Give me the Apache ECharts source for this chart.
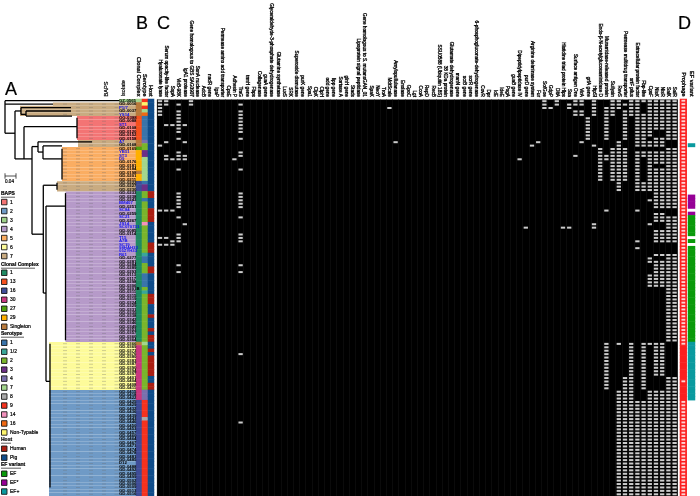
<!DOCTYPE html>
<html>
<head>
<meta charset="utf-8" />
<title>Phylogeny and virulence gene matrix</title>
<style>
  html, body { margin: 0; padding: 0; background: #fff; }
  #main { width: 700px; height: 496px; }
</style>
<script src="https://cdn.jsdelivr.net/npm/echarts@6/dist/echarts.min.js"></script>
</head>
<body>
<div id="main"></div>
<script>
// isolate per row, top to bottom. most of these are too small to read, so they are estimates
const isolates = [
  "GZ-0565","GD-0016","P1/7","GD-0037","YS14","OG-0388","GD-0088","ST1","GD-0108","GD-0120",
  "GD-0152","GD-0158","A7","GD-0168","GD-0169","YB51","ST3","D9","GD-0176","GD-0181",
  "GD-0184","GD-0198","GD-0201","GD-0211","GD-0222","GD-0227","GD-0230","GD-0233","GD-0238","GD-0243",
  "BM407","GD-0251","SC84","GD-0259","SC21","GD-0267","JS14","SC070731","GD-0085","GD-0114",
  "T15","A7B","SC19","98HAH33","05ZYH33","R61","GD-0277","GD-0281","GD-0284","GD-0289",
  "GD-0293","GD-0113","GD-0117","GD-0298","GD-0306","GD-0201B","GD-0311","GD-0315","GD-0319","GD-0324",
  "GD-0329","GD-0331","GD-0335","GD-0338","GD-0342","GD-0346","GD-0349","GD-0353","GD-0357","GD-0360",
  "GD-0364","GD-0366","GD-0369","GD-0373","GD-0376","GD-0380","GD-0383","GD-0387","GD-0390","GD-0394",
  "GD-0397","GD-0401","GD-0404","GD-0408","GD-0411","GD-0415","GD-0418","GD-0422","GD-0425","GD-0429",
  "GD-0432","GD-0436","GD-0439","GD-0443","GD-0446","GD-0450","GD-0453","GD-0457","GD-0460","GD-0464",
  "GD-0467","GD-0471","GD-0474","GD-0478","GD-0481","GD-0485","D12","GD-0488","GD-0492","GD-0495",
  "GD-0499","GD-0502","GD-0506","GD-0509","GD-0513","GD-0516"
];
const refIsolates = ["P1/7","YS14","ST1","A7","YB51","ST3","D9","BM407","SC84","SC21","JS14","SC070731",
  "T15","A7B","SC19","98HAH33","05ZYH33","R61"];

const genes = [
  "Hyaluronate lyase","Serum opacity-like factor","SspA","VirB-98K","IgA1 protease",
  "Gene homologous to GBS SAG0907","SsnA nuclease","AdcB","nadR gene","IgaP",
  "Permease amino acid transporter","CpsE","Adhesin P","TraG","trmH gene","Fbps","Collagenase",
  "guaA gene","Glyceraldehyde-3-phosphate dehydrogenase","Glutamine synthetase","LuxS","SRK",
  "Superoxide dismutase","purK gene","Spa1","ClpK","ClpH","odd gene","lipp gene","Sortase A","glnH gene",
  "Stads","Lipoprotein signal peptidase","Gene homologous to S. mutansGAN_01","SpaK","NeoY","TroA",
  "MdtScale","Amylopullulanase","Enolase","GpoC","Lgt","CcoA","RepD","RecB",
  "SSU0588 (Ubiquitin 18S)","38 KDa protein","Glutamate dehydrogenase","manN gene","scrB gene","scrR gene",
  "6-phosphogluconate-dehydrogenase","CovR","Dpr","IdE","IdeE","PsgA","guaB gene",
  "Dipeptidylpeptidase IV","purD gene","Arginine deiminase system","Fur","SofGoe","GdpP","DltA",
  "Histidine triad protein Hlps","Ssa","Surface antigen One","VirA","grfA gene","HtpSl",
  "Endo-β-N-acetylglucosaminidase D","Muramidase-released protein","Suilysin","RevS",
  "Permease multidrug transporter","srtF pilus","Extracellular protein factor","Fbp-like","CpsF",
  "NisK","NisR","SalK","SalR"
];

// rows where each gene is present (gene index -> rows), [a, b] means a to b
const presence = {
  0: [[0, 4], 13, 32, 40, 42],
  1: [0, 1, 7, 12, 16, 17, 32, 40, 42],
  2: [7, 17, 32, 41, 42],
  3: [1, [3, 9], 11, [15, 17], 20, [27, 31], 34, [39, 41], 48, 50],
  4: [7, 12, 16, 17, 36],
  5: [0, 1],
  12: [17],
  13: [1, [3, 9], 11, 15, 16, 20, [27, 31], 34, [39, 41], 48, 50, 74, 94],
  37: [2],
  38: [12],
  58: [17],
  59: [37],
  60: [13],
  61: [12],
  62: [0, 1, 2],
  63: [2],
  64: [0, 1],
  65: [37],
  66: [1, 2, 37],
  67: [0, 1, 3, 4, 16],
  68: [0, 1, 3, 4, 12],
  69: [[5, 11]],
  70: [[0, 4], 13, 36, 37],
  71: [[14, 23]],
  72: [[2, 11], 16, 17, 32, [71, 84]],
  73: [[0, 4], [14, 23]],
  74: [0, 1, 2, [12, 26], 71, [85, 115]],
  75: [1, [3, 11], [14, 23], [81, 115]],
  76: [[0, 4], [71, 115]],
  77: [[0, 13], [15, 26], 32, 41, 43, [88, 115]],
  78: [0, [4, 13], 15, 16, [24, 26], [71, 84], [88, 115]],
  79: [[0, 10], 12, 13, [15, 26], 29, 36, 46, 47, [51, 54], 71, [85, 115]],
  80: [[0, 8], [11, 13], [15, 18], [20, 31], [33, 35], [38, 41], 45, [47, 54], [71, 80], [85, 115]],
  81: [[0, 8], [11, 13], [15, 18], [20, 31], [33, 35], [38, 41], 45, [47, 54], [71, 80], [85, 115]],
  82: [[0, 11], [14, 31], [34, 41], [45, 70], [81, 115]],
  83: [[0, 11], [14, 31], [34, 41], [45, 70], [81, 115]]
};
const prophageRows = [[0, 71], 82, [88, 115]];

// strips as [key, last row of the run]
const bapsRuns = [["3", 0, 119], ["7", 1, 53], ["7", 4, 20], ["1", 11, 77], ["7", 13, 78], ["5", 23, 62],
  ["7", 26, 57], ["4", 70, 65.5], ["6", 84, 49], ["2", 115, 49]];
const complexRuns = [["none", 0], ["Singleton", 4], ["13", 11], ["Singleton", 13], ["27", 14], ["29", 20],
  ["Singleton", 21], ["29", 23], ["16", 26], ["1", 70], ["Singleton", 71], ["30", 87], ["16", 115]];
const serotypeRuns = [["9", 0], ["Non-Typable", 1], ["9", 2], ["7", 3], ["16", 4], ["1", 11], ["4", 12], ["2", 14],
  ["3", 16], ["7", 23], ["1", 24], ["3", 26], ["2", 28], ["1", 29], ["2", 35], ["14", 36], ["2", 44], ["1/2", 45],
  ["1", 47], ["2", 50], ["1", 54], ["2", 55], ["1/2", 56], ["2", 70], ["7", 71], ["2", 84], ["4", 87], ["9", 92],
  ["8", 93], ["9", 115]];
const hostRuns = [["Pig", 26], ["Human", 28], ["Pig", 31], ["Human", 35], ["Pig", 41], ["Human", 44], ["Pig", 48],
  ["Human", 50], ["Pig", 56], ["Human", 59], ["Pig", 62], ["Human", 63], ["Pig", 66], ["Human", 67], ["Pig", 68],
  ["Human", 70], ["Pig", 72], ["Human", 73], ["Pig", 74], ["Human", 80], ["Pig", 82], ["Human", 84], ["Pig", 115]];
const efRuns = [["none", 12], ["EF+", 13], ["none", 27], ["EF*", 31], ["none", 32], ["EF*", 33], ["EF", 39],
  ["none", 40], ["EF", 41], ["none", 42], ["EF", 70], ["EF+", 87], ["none", 115]];

// tree branches: depth, row, depth, row
const treeBranches = [
  [5, 0, 5, 9.5], [5, 0, 119, 0], [5, 1, 53, 1], [5, 9.5, 15, 9.5], [15, 3, 15, 17],
  [15, 3, 21, 3], [21, 2, 21, 4], [21, 2, 71, 2], [21, 4, 26, 4], [26, 3, 26, 4.5], [26, 3, 71, 3], [26, 4.5, 72, 4.5],
  [15, 17, 24, 17], [24, 7.6, 24, 17], [24, 7.6, 77, 7.6], [77, 5, 77, 11],
  [24, 17, 32, 17], [32, 13.4, 32, 39], [32, 13.4, 38, 13.4], [38, 12, 38, 15], [38, 12, 92, 12], [38, 15, 43, 15],
  [43, 13.2, 43, 17], [43, 13.2, 62, 13.2], [43, 17, 62, 17], [62, 14, 62, 23],
  [32, 39, 43.3, 39], [43.3, 24.7, 43.3, 56.2], [43.3, 24.7, 57, 24.7], [57, 24, 57, 26],
  [43.3, 56.2, 46, 56.2], [46, 30.8, 46, 82], [46, 30.8, 65.5, 30.8], [65.5, 27, 65.5, 70],
  [46, 82, 50, 82], [50, 71, 50, 113]
];
const scaleBar = [[5, 22, 16, 22], [5, 21.2, 5, 22.8], [16, 21.2, 16, 22.8]];
const rowDashDepths = [65, 78, 91, 104, 116.5];

const bapsLegend = ["1", "2", "3", "4", "5", "6", "7"];
const bapsColors = ["#f37474", "#6f9ac6", "#9ed08a", "#b69ac9", "#faad62", "#fdfb9a", "#c9ab81"];
const complexLegend = ["1", "13", "16", "30", "27", "29", "Singleton"];
const complexColors = ["#1f8a63", "#f4511e", "#3f4d97", "#c9387f", "#4fa00f", "#ffb000", "#b87a3c"];
const serotypeLegend = ["1", "1/2", "2", "3", "4", "7", "8", "9", "14", "16", "Non-Typable"];
const serotypeColors = ["#3a74aa", "#3aa698", "#7ab52c", "#6d2f87", "#7a70ad", "#a3d68d", "#a9a9a9", "#f5321e", "#f391bd", "#f16913", "#fdf56c"];
const hostLegend = ["Human", "Pig"];
const hostColors = ["#ab1f13", "#0f4c8a"];
const efLegend = ["EF", "EF*", "EF+"];
const efColors = ["#099a0a", "#960096", "#0a9a9f"];

const FONT = '"Liberation Sans", Arial, sans-serif';
const ROW_COUNT = isolates.length;
const GRID_TOP = 99;
const GRID_HEIGHT = 397;

function colorMap(keys, colors) {
  const map = { none: null };
  keys.forEach((k, i) => { map[k] = colors[i]; });
  return map;
}

function expandRows(list) {
  const out = [];
  list.forEach((item) => {
    if (Array.isArray(item)) {
      for (let r = item[0]; r <= item[1]; r++) out.push(r);
    } else {
      out.push(item);
    }
  });
  return out;
}

// turns runs into heatmap cells for one strip column
function stripCells(runs, col, map) {
  const cells = [];
  let first = 0;
  runs.forEach((run) => {
    for (let r = first; r <= run[1]; r++) {
      if (map[run[0]]) cells.push({ value: [col, r, 1], itemStyle: { color: map[run[0]] } });
    }
    first = run[1] + 1;
  });
  return cells;
}

const complexMap = colorMap(complexLegend, complexColors);
complexMap.none = "#a5d28c";
const serotypeMap = colorMap(serotypeLegend, serotypeColors);
const hostMap = colorMap(hostLegend, hostColors);
const efMap = colorMap(efLegend, efColors);

// coloured clade bands behind the tree
const bandData = [];
const dashData = [];
let bandFirst = 0;
bapsRuns.forEach((run) => {
  for (let r = bandFirst; r <= run[1]; r++) {
    bandData.push([run[2], r, 136, bapsLegend.indexOf(run[0])]);
    rowDashDepths.forEach((d) => {
      if (d > run[2] + 2) dashData.push([d, r]);
    });
  }
  bandFirst = run[1] + 1;
});

const geneMarks = [];
Object.keys(presence).forEach((g) => {
  expandRows(presence[g]).forEach((r) => geneMarks.push([Number(g), r]));
});

const stripCellsAll = [].concat(
  stripCells(complexRuns, 0, complexMap),
  stripCells(serotypeRuns, 1, serotypeMap),
  stripCells(hostRuns, 2, hostMap)
);

const prophageCells = [];
for (let r = 0; r < ROW_COUNT; r++) prophageCells.push({ value: [0, r, 1], itemStyle: { color: "#fb1f1f" } });
const prophageMarks = expandRows(prophageRows).map((r) => [0, r]);

// legend and panel letters
const graphics = [];
function addText(text, x, y, opts) {
  graphics.push(Object.assign({
    type: "text", x: x, y: y, silent: true,
    style: Object.assign({ text: text, fill: "#000", stroke: "#000", lineWidth: 0.2, font: "4.8px " + FONT, textVerticalAlign: "middle" }, opts && opts.style)
  }, opts && opts.el));
}
function addSection(title, underline, titleY, firstY, step, keys, colors) {
  addText(title, 1, titleY, { style: { font: "bold 5px " + FONT } });
  graphics.push({ type: "line", silent: true, shape: { x1: 1, y1: titleY + 3.2, x2: underline, y2: titleY + 3.2 }, style: { stroke: "#333", lineWidth: 0.8 } });
  keys.forEach((k, i) => {
    const y = firstY + i * step;
    graphics.push({ type: "rect", silent: true, shape: { x: 1.5, y: y - 3, width: 5.5, height: 5.5 }, style: { fill: colors[i], stroke: "#1a1a1a", lineWidth: 0.9 } });
    addText(k, 10, y, { style: { font: "5px " + FONT } });
  });
}
addSection("BAPS", 15, 194, 202.3, 9, bapsLegend, bapsColors);
addSection("Clonal Complex", 35, 265, 273, 9, complexLegend, complexColors);
addSection("Serotype", 24, 334, 343, 8.97, serotypeLegend, serotypeColors);
addSection("Host", 11, 440, 449, 8.9, hostLegend, hostColors);
addSection("EF variant", 21, 465, 474, 8.9, efLegend, efColors);
addText("0.04", 5, 182, { style: { font: "4.6px " + FONT } });
[["A", 5, 90.5], ["B", 136, 24.5], ["C", 157, 24.5], ["D", 678, 24.5]].forEach((p) => {
  addText(p[0], p[1], p[2], { style: { font: "18px " + FONT } });
});
[["BAPS", 106.5], ["Isolate", 123.5]].forEach((p) => {
  addText(p[0], p[1], 96.5, { el: { rotation: Math.PI / 2 }, style: { font: "5.6px " + FONT } });
});

function hiddenAxis(extra) {
  return Object.assign({ show: false }, extra);
}
const rowAxis = (gridIndex, extra) => Object.assign({
  type: "category", gridIndex: gridIndex, data: isolates, inverse: true,
  axisLine: { show: false }, axisTick: { show: false }, axisLabel: { show: false }, splitLine: { show: false }
}, extra);
const topAxis = (gridIndex, data, fontSize, extra) => Object.assign({
  type: "category", gridIndex: gridIndex, data: data, position: "top",
  axisLine: { show: false }, axisTick: { show: false }, splitLine: { show: false },
  axisLabel: {
    show: true, interval: 0, rotate: 90, fontSize: fontSize, fontFamily: FONT, color: "#000", margin: 2.5,
    hideOverlap: false, align: "right", verticalAlign: "middle",
    textBorderColor: "#000", textBorderWidth: 0.3
  }
}, extra);
const gridBox = (left, width, extra) => Object.assign({ left: left, width: width, top: GRID_TOP, height: GRID_HEIGHT }, extra);

const option = {
  animation: false,
  backgroundColor: "#fff",
  graphic: graphics,
  grid: [
    gridBox(0, 136),
    gridBox(119, 17),
    gridBox(136, 18),
    gridBox(156.9, 520.8, { show: true, backgroundColor: "#000", borderWidth: 0 }),
    gridBox(680, 6.7),
    gridBox(688, 7)
  ],
  xAxis: [
    hiddenAxis({ type: "value", gridIndex: 0, min: 0, max: 136 }),
    hiddenAxis({ type: "category", gridIndex: 1, data: ["Isolate"] }),
    topAxis(2, ["Clonal Complex", "Serotype", "Host"], 5.6),
    topAxis(3, genes, 4.7, { splitLine: { show: true, lineStyle: { color: "#131313", width: 0.6 } } }),
    topAxis(4, ["Prophage"], 5.6),
    topAxis(5, ["EF variant"], 5.6)
  ],
  yAxis: [
    hiddenAxis({ type: "value", gridIndex: 0, inverse: true, min: -0.5, max: ROW_COUNT - 0.5 }),
    rowAxis(1, {
      z: 20,
      axisLabel: {
        show: true, inside: true, interval: 0, fontSize: 4.3, fontFamily: FONT, fontWeight: "bold", margin: 0,
        hideOverlap: false, align: "left",
        color: (value) => (refIsolates.indexOf(value) >= 0 ? "#1010f0" : "#000")
      }
    }),
    rowAxis(2),
    rowAxis(3),
    rowAxis(4),
    rowAxis(5)
  ],
  series: [
    {
      type: "custom", xAxisIndex: 0, yAxisIndex: 0, data: bandData, silent: true, z: 1,
      encode: { x: [0, 2], y: 1 },
      renderItem: (params, api) => {
        const a = api.coord([api.value(0), api.value(1) - 0.5]);
        const b = api.coord([api.value(2), api.value(1) + 0.5]);
        return { type: "rect", shape: { x: a[0], y: a[1], width: b[0] - a[0], height: b[1] - a[1] }, style: { fill: bapsColors[api.value(3)] } };
      }
    },
    {
      type: "scatter", xAxisIndex: 0, yAxisIndex: 0, data: dashData, silent: true, z: 2,
      symbol: "rect", symbolSize: [4, 1], itemStyle: { color: "rgba(110,110,110,0.4)" }
    },
    {
      type: "custom", xAxisIndex: 0, yAxisIndex: 0, data: treeBranches, silent: true, z: 3,
      encode: { x: [0, 2], y: [1, 3] },
      renderItem: (params, api) => {
        const a = api.coord([api.value(0), api.value(1)]);
        const b = api.coord([api.value(2), api.value(3)]);
        return { type: "line", shape: { x1: a[0], y1: a[1], x2: b[0], y2: b[1] }, style: { stroke: "#000", lineWidth: 1.3 } };
      }
    },
    {
      type: "custom", xAxisIndex: 0, yAxisIndex: 0, data: scaleBar, silent: true, z: 3,
      encode: { x: [0, 2], y: [1, 3] },
      renderItem: (params, api) => {
        const a = api.coord([api.value(0), api.value(1)]);
        const b = api.coord([api.value(2), api.value(3)]);
        return { type: "line", shape: { x1: a[0], y1: a[1], x2: b[0], y2: b[1] }, style: { stroke: "#222", lineWidth: 0.8 } };
      }
    },
    { type: "heatmap", xAxisIndex: 2, yAxisIndex: 2, data: stripCellsAll, silent: true },
    {
      type: "scatter", xAxisIndex: 3, yAxisIndex: 3, data: geneMarks, silent: true,
      symbol: "rect", symbolSize: [4.3, 2], itemStyle: { color: "#fff" }
    },
    { type: "heatmap", xAxisIndex: 4, yAxisIndex: 4, data: prophageCells, silent: true },
    {
      type: "scatter", xAxisIndex: 4, yAxisIndex: 4, data: prophageMarks, silent: true, z: 5,
      symbol: "rect", symbolSize: [3.8, 1.9], itemStyle: { color: "#fff" }
    },
    { type: "heatmap", xAxisIndex: 5, yAxisIndex: 5, data: stripCells(efRuns, 0, efMap), silent: true }
  ]
};

const myChart = echarts.init(document.getElementById("main"));
myChart.setOption(option);
</script>
</body>
</html>
